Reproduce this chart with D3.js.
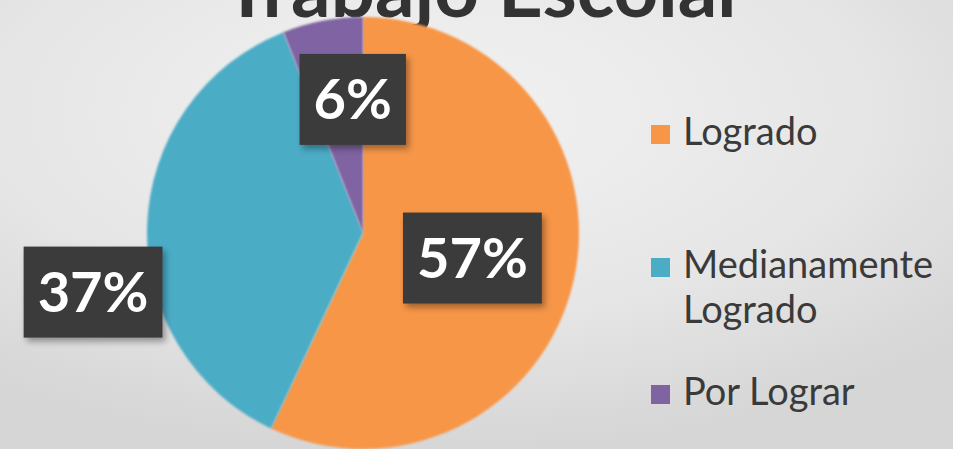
<!DOCTYPE html>
<html>
<head>
  <meta charset="utf-8" />
  <title>Trabajo Escolar</title>
  <script src="https://d3js.org/d3.v7.min.js"></script>
  <style>
    body { margin: 0; overflow: hidden; }
    svg { display: block; }
    .title { font-family: Lato, sans-serif; font-weight: 700; fill: #333; }
    .legend text { font-family: Lato, sans-serif; font-size: 38px; fill: #3a3a3a; }
    .lbl text { font-family: Lato, sans-serif; font-weight: 700; font-size: 56px; fill: #fff; }
  </style>
</head>
<body>
  <script>
    // - - - - - DATA - - - - - //
    var categories = ["Logrado", "Medianamente Logrado", "Por Lograr"];
    var values = [57, 37, 6];
    var legendLines = [["Logrado"], ["Medianamente", "Logrado"], ["Por Lograr"]];
    var title = "Trabajo Escolar";

    // - - - - - LAYOUT - - - - - //
    var width = 953, height = 449;
    var cx = 363, cy = 233, radius = 216;
    var colors = ["#f79646", "#4bacc6", "#8064a2"];
    // label nudges away from the slice centroid (labels were dragged by hand)
    var labelNudge = [[4, 1], [-162, 62], [10, -28]];

    var svg = d3.select("body").append("svg")
        .attr("width", width)
        .attr("height", height);

    var defs = svg.append("defs");
    var bg = defs.append("radialGradient")
        .attr("id", "bg")
        .attr("cx", "45%").attr("cy", "25%").attr("r", "75%");
    bg.append("stop").attr("offset", "0%").attr("stop-color", "#f2f2f2");
    bg.append("stop").attr("offset", "60%").attr("stop-color", "#e6e6e6");
    bg.append("stop").attr("offset", "100%").attr("stop-color", "#d6d6d6");

    var shadow = defs.append("filter").attr("id", "shadow")
        .attr("x", "-20%").attr("y", "-20%").attr("width", "150%").attr("height", "150%");
    shadow.append("feDropShadow")
        .attr("dx", 3).attr("dy", 4).attr("stdDeviation", 3)
        .attr("flood-color", "#000").attr("flood-opacity", 0.35);

    var soft = defs.append("filter").attr("id", "soft");
    soft.append("feGaussianBlur").attr("stdDeviation", 0.8);

    svg.append("rect")
        .attr("width", width).attr("height", height)
        .attr("fill", "url(#bg)");

    // title, cut off at the top edge like the source
    svg.append("text")
        .attr("class", "title")
        .attr("x", 485).attr("y", 17)
        .attr("text-anchor", "middle")
        .style("font-size", "78px")
        .text(title);

    // - - - - - PIE - - - - - //
    var color = d3.scaleOrdinal().domain(categories).range(colors);

    var pie = d3.pie().sort(null).value(function(d) { return d.value; });
    var arcs = pie(categories.map(function(c, i) { return {name: c, value: values[i]}; }));

    var arc = d3.arc().innerRadius(0).outerRadius(radius);

    var g = svg.append("g").attr("transform", "translate(" + cx + "," + cy + ")");

    g.selectAll("path.slice")
        .data(arcs)
      .enter().append("path")
        .attr("class", "slice")
        .attr("d", arc)
        .attr("fill", function(d) { return color(d.data.name); })
        .attr("filter", "url(#soft)");

    // data labels: dark boxes with white percentages
    var lbl = g.selectAll("g.lbl")
        .data(arcs)
      .enter().append("g")
        .attr("class", "lbl")
        .attr("transform", function(d, i) {
          var c = arc.centroid(d);
          return "translate(" + (c[0] + labelNudge[i][0]) + "," + (c[1] + labelNudge[i][1]) + ")";
        });

    lbl.append("rect").attr("fill", "#3a3a3a").attr("filter", "url(#shadow)");
    lbl.append("text")
        .attr("text-anchor", "middle")
        .attr("y", 20)
        .text(function(d) { return d.data.value + "%"; });

    lbl.each(function() {
      var t = d3.select(this).select("text").node();
      var w = t.getComputedTextLength() + 28;
      d3.select(this).select("rect")
        .attr("x", -w / 2).attr("y", -45)
        .attr("width", w).attr("height", 91);
    });

    // - - - - - LEGEND - - - - - //
    var legendY = [145, 278, 405];
    var legend = svg.append("g").attr("class", "legend");

    var item = legend.selectAll("g")
        .data(categories)
      .enter().append("g")
        .attr("transform", function(d, i) { return "translate(651," + legendY[i] + ")"; });

    item.append("rect")
        .attr("x", 0).attr("y", -20)
        .attr("width", 19).attr("height", 19)
        .attr("fill", function(d) { return color(d); });

    item.append("text")
        .attr("x", 32)
        .each(function(d, i) {
          var t = d3.select(this);
          legendLines[i].forEach(function(line, k) {
            t.append("tspan").attr("x", 32).attr("dy", k ? 45 : 0).text(line);
          });
        });
  </script>
</body>
</html>
